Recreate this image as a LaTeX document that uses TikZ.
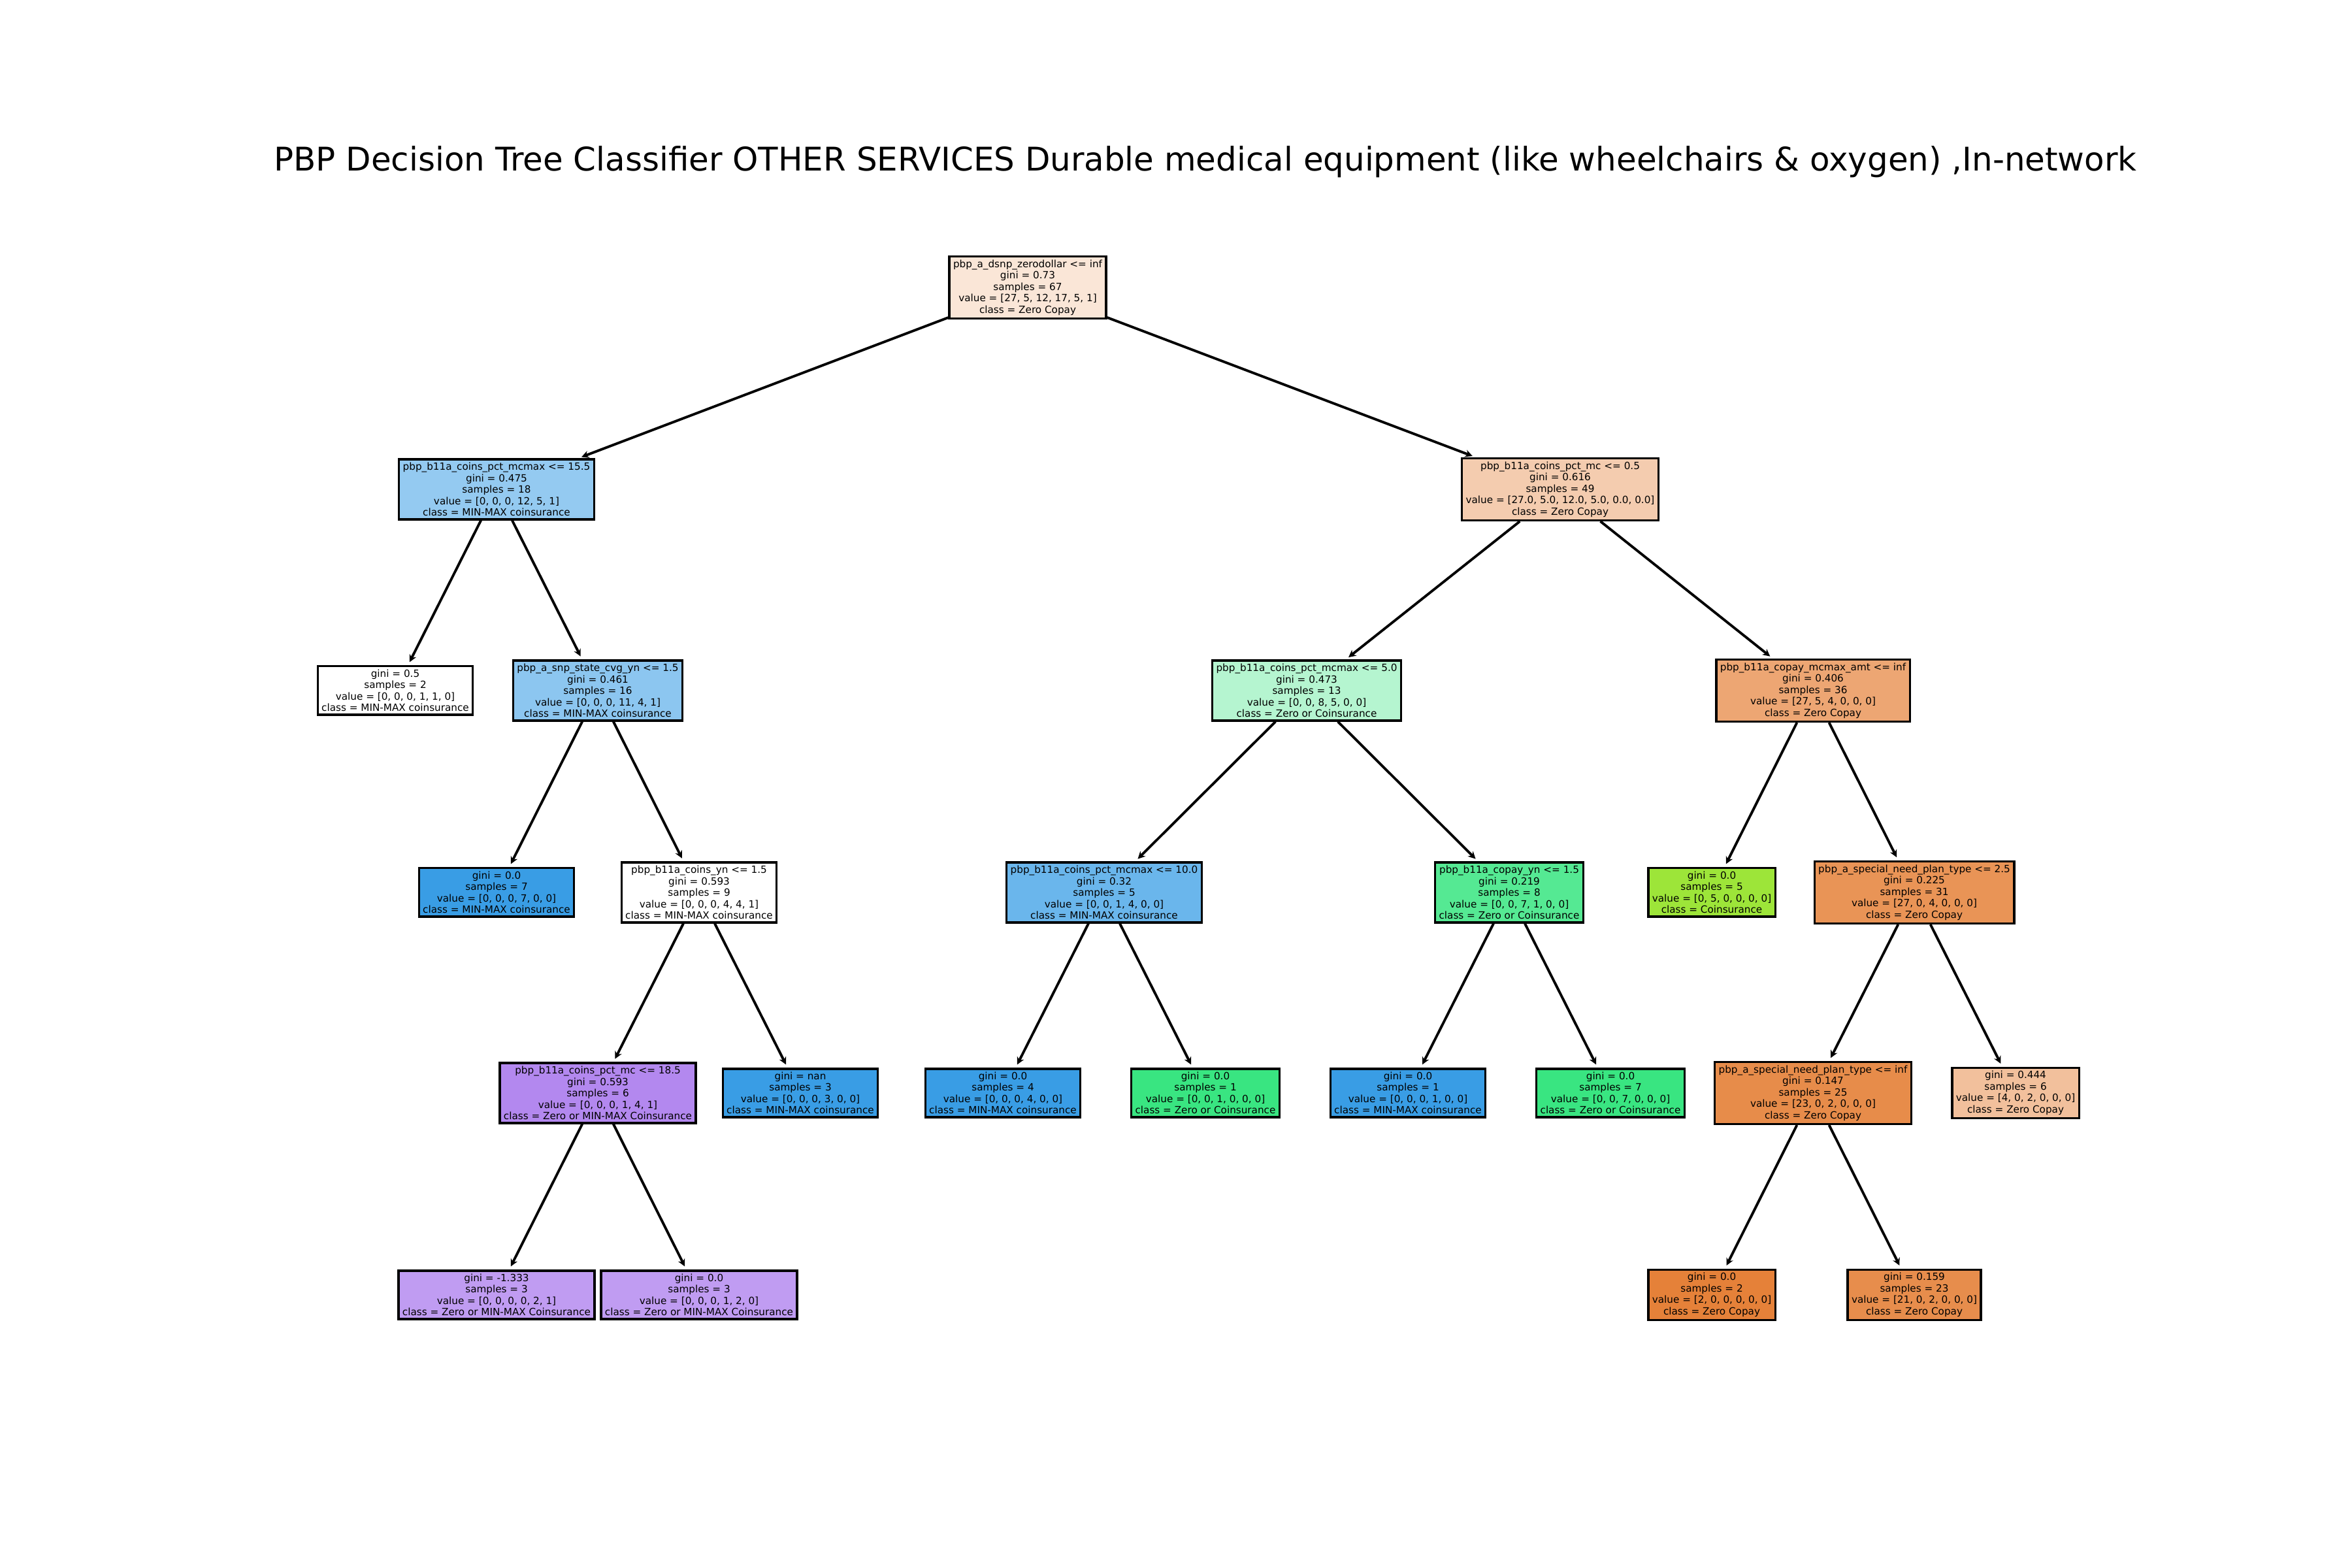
\documentclass[tikz,border=0pt]{standalone}
\usepackage{fontspec}
\setmainfont{DejaVu Sans}
\usepackage{tikz}
\usetikzlibrary{arrows,arrows.meta}
\definecolor{zc20}{RGB}{250,230,215}
\definecolor{zc41}{RGB}{244,204,175}
\definecolor{zc50}{RGB}{242,192,156}
\definecolor{zc71}{RGB}{237,166,115}
\definecolor{zc85}{RGB}{233,148,86}
\definecolor{zc90}{RGB}{231,141,76}
\definecolor{zc91}{RGB}{231,140,74}
\definecolor{zc}{RGB}{229,129,57}
\definecolor{co}{RGB}{157,229,57}
\definecolor{zo38}{RGB}{181,245,208}
\definecolor{zo86}{RGB}{85,233,147}
\definecolor{zo}{RGB}{57,229,129}
\definecolor{mm54}{RGB}{148,202,241}
\definecolor{mm58}{RGB}{140,198,240}
\definecolor{mm75}{RGB}{106,182,236}
\definecolor{mm}{RGB}{57,157,229}
\definecolor{zm50}{RGB}{192,156,242}
\definecolor{zm60}{RGB}{179,136,239}
\tikzset{tn/.style={draw, rectangle, line width=0.95pt, inner xsep=0.06cm, inner ysep=0.05cm, align=center, font=\fontsize{4.33pt}{4.98pt}\selectfont}}

\begin{document}
\begin{tikzpicture}[>={Stealth[length=3.2pt, width=3.2pt]}, shorten >=1.5pt]
\fill[white] (0,0) rectangle (36,24);
\node[anchor=base, font=\fontsize{14.2pt}{17pt}\selectfont] (T) at (18.45,21.38) {PBP Decision Tree Classifier OTHER SERVICES Durable medical equipment (like wheelchairs \& oxygen) ,In-network};
% root and first split
\node[tn, fill=zc20] (R) at (15.73,19.60) {pbp\_a\_dsnp\_zerodollar <= inf\\gini = 0.73\\samples = 67\\value = [27, 5, 12, 17, 5, 1]\\class = Zero Copay};
\node[tn, fill=mm54] (A) at (7.60,16.51) {pbp\_b11a\_coins\_pct\_mcmax <= 15.5\\gini = 0.475\\samples = 18\\value = [0, 0, 0, 12, 5, 1]\\class = MIN-MAX coinsurance};
\node[tn, fill=zc41] (B) at (23.88,16.51) {pbp\_b11a\_coins\_pct\_mc <= 0.5\\gini = 0.616\\samples = 49\\value = [27.0, 5.0, 12.0, 5.0, 0.0, 0.0]\\class = Zero Copay};
% depth 2
\node[tn, fill=white] (A1) at (6.05,13.43) {gini = 0.5\\samples = 2\\value = [0, 0, 0, 1, 1, 0]\\class = MIN-MAX coinsurance};
\node[tn, fill=mm58] (A2) at (9.15,13.43) {pbp\_a\_snp\_state\_cvg\_yn <= 1.5\\gini = 0.461\\samples = 16\\value = [0, 0, 0, 11, 4, 1]\\class = MIN-MAX coinsurance};
\node[tn, fill=zo38] (B1) at (20.00,13.43) {pbp\_b11a\_coins\_pct\_mcmax <= 5.0\\gini = 0.473\\samples = 13\\value = [0, 0, 8, 5, 0, 0]\\class = Zero or Coinsurance};
\node[tn, fill=zc71] (B2) at (27.75,13.43) {pbp\_b11a\_copay\_mcmax\_amt <= inf\\gini = 0.406\\samples = 36\\value = [27, 5, 4, 0, 0, 0]\\class = Zero Copay};
% depth 3
\node[tn, fill=mm] (A2a) at (7.60,10.34) {gini = 0.0\\samples = 7\\value = [0, 0, 0, 7, 0, 0]\\class = MIN-MAX coinsurance};
\node[tn, fill=white] (A2b) at (10.70,10.34) {pbp\_b11a\_coins\_yn <= 1.5\\gini = 0.593\\samples = 9\\value = [0, 0, 0, 4, 4, 1]\\class = MIN-MAX coinsurance};
\node[tn, fill=mm75] (B1a) at (16.90,10.34) {pbp\_b11a\_coins\_pct\_mcmax <= 10.0\\gini = 0.32\\samples = 5\\value = [0, 0, 1, 4, 0, 0]\\class = MIN-MAX coinsurance};
\node[tn, fill=zo86] (B1b) at (23.10,10.34) {pbp\_b11a\_copay\_yn <= 1.5\\gini = 0.219\\samples = 8\\value = [0, 0, 7, 1, 0, 0]\\class = Zero or Coinsurance};
\node[tn, fill=co] (B2a) at (26.20,10.34) {gini = 0.0\\samples = 5\\value = [0, 5, 0, 0, 0, 0]\\class = Coinsurance};
\node[tn, fill=zc85] (B2b) at (29.30,10.34) {pbp\_a\_special\_need\_plan\_type <= 2.5\\gini = 0.225\\samples = 31\\value = [27, 0, 4, 0, 0, 0]\\class = Zero Copay};
% depth 4
\node[tn, fill=zm60] (A2b1) at (9.15,7.27) {pbp\_b11a\_coins\_pct\_mc <= 18.5\\gini = 0.593\\samples = 6\\value = [0, 0, 0, 1, 4, 1]\\class = Zero or MIN-MAX Coinsurance};
\node[tn, fill=mm] (A2b2) at (12.25,7.27) {gini = nan\\samples = 3\\value = [0, 0, 0, 3, 0, 0]\\class = MIN-MAX coinsurance};
\node[tn, fill=mm] (B1a1) at (15.35,7.27) {gini = 0.0\\samples = 4\\value = [0, 0, 0, 4, 0, 0]\\class = MIN-MAX coinsurance};
\node[tn, fill=zo] (B1a2) at (18.45,7.27) {gini = 0.0\\samples = 1\\value = [0, 0, 1, 0, 0, 0]\\class = Zero or Coinsurance};
\node[tn, fill=mm] (B1b1) at (21.55,7.27) {gini = 0.0\\samples = 1\\value = [0, 0, 0, 1, 0, 0]\\class = MIN-MAX coinsurance};
\node[tn, fill=zo] (B1b2) at (24.65,7.27) {gini = 0.0\\samples = 7\\value = [0, 0, 7, 0, 0, 0]\\class = Zero or Coinsurance};
\node[tn, fill=zc91] (B2b1) at (27.75,7.27) {pbp\_a\_special\_need\_plan\_type <= inf\\gini = 0.147\\samples = 25\\value = [23, 0, 2, 0, 0, 0]\\class = Zero Copay};
\node[tn, fill=zc50] (B2b2) at (30.85,7.27) {gini = 0.444\\samples = 6\\value = [4, 0, 2, 0, 0, 0]\\class = Zero Copay};
% depth 5
\node[tn, fill=zm50] (A2b1a) at (7.60,4.18) {gini = -1.333\\samples = 3\\value = [0, 0, 0, 0, 2, 1]\\class = Zero or MIN-MAX Coinsurance};
\node[tn, fill=zm50] (A2b1b) at (10.70,4.18) {gini = 0.0\\samples = 3\\value = [0, 0, 0, 1, 2, 0]\\class = Zero or MIN-MAX Coinsurance};
\node[tn, fill=zc] (B2b1a) at (26.20,4.18) {gini = 0.0\\samples = 2\\value = [2, 0, 0, 0, 0, 0]\\class = Zero Copay};
\node[tn, fill=zc90] (B2b1b) at (29.30,4.18) {gini = 0.159\\samples = 23\\value = [21, 0, 2, 0, 0, 0]\\class = Zero Copay};
\path[->, line width=1.1pt] (R) edge (A)
		edge (B)
	(A) edge (A1)
		edge (A2)
	(A2) edge (A2a)
		edge (A2b)
	(A2b) edge (A2b1)
		edge (A2b2)
	(A2b1) edge (A2b1a)
		edge (A2b1b)
	(B) edge (B1)
		edge (B2)
	(B1) edge (B1a)
		edge (B1b)
	(B1a) edge (B1a1)
		edge (B1a2)
	(B1b) edge (B1b1)
		edge (B1b2)
	(B2) edge (B2a)
		edge (B2b)
	(B2b) edge (B2b1)
		edge (B2b2)
	(B2b1) edge (B2b1a)
		edge (B2b1b)
;
\end{tikzpicture}
\end{document}
